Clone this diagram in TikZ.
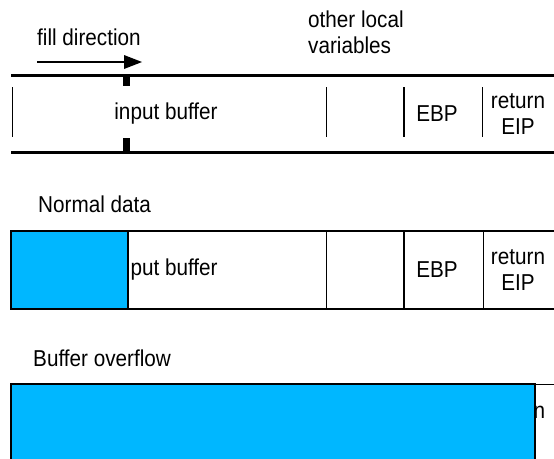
\documentclass[tikz,border=0pt]{standalone}
\usepackage{fontspec}
\setmainfont[FakeStretch=0.9]{Liberation Sans}
\usetikzlibrary{arrows.meta,positioning}
\definecolor{fillblue}{RGB}{0,183,255}

\tikzset{
  lbl/.style={font=\fontsize{23}{26}\selectfont, inner sep=0pt},
  thinwall/.style={line width=1pt},
  wall/.style={line width=2pt},
  rim/.style={line width=3pt},
  spill/.style={fill=fillblue, draw=black, line width=2pt},
}

\begin{document}
\begin{tikzpicture}[x=1pt,y=-1pt]
  \useasboundingbox (0,0) rectangle (554,458);

  % stack frame before the copy
  \node[lbl, anchor=base west] (filltxt) at (37,45) {fill direction};
  \node[lbl, anchor=north west, align=left] (others) at (308,11) {other local\\variables};
  \coordinate (fillstart) at (37,62);
  \coordinate (fillhead) at (124,62);
  \coordinate (fillend) at (142,62);
  \draw[line width=1.5pt] (fillstart) -- (fillhead);
  \fill (fillend) -- ([yshift=-7pt]fillhead) -- ([yshift=7pt]fillhead) -- cycle;

  \draw[rim] (11,75) -- (554,75);
  \draw[rim] (11,152) -- (554,152);
  \foreach \x/\w in {12/thinwall,326/thinwall,404/wall,482/thinwall}
    \draw[\w] (\x,87) -- (\x,137);
  \fill (123,75) rectangle (130,86);
  \fill (123,138) rectangle (130,152);
  \node[lbl] (inbuf1) at (166,114) {input buffer};
  \node[lbl] (ebp1) at (437,114) {EBP};
  \node[lbl, align=center] (eip1) at (518,114) {return\\EIP};

  % normal data
  \node[lbl, anchor=base west] (normal) at (38,212) {Normal data};
  \node[lbl] (inbuf2) at (166,270) {input buffer};
  \node[lbl] (ebp2) at (437,270) {EBP};
  \node[lbl, align=center] (eip2) at (518,270) {return\\EIP};
  \draw[wall] (554,231) -- (11,231) -- (11,309) -- (554,309);
  \filldraw[spill] (11,231) rectangle (128,309);
  \draw[thinwall] (326,231) -- (326,309);
  \draw[wall] (404,231) -- (404,309);
  \draw[thinwall] (483,231) -- (483,309);

  % buffer overflow
  \node[lbl, anchor=base west] (overflow) at (33,366) {Buffer overflow};
  \node[lbl, align=center] (eip3) at (518,424) {return\\EIP};
  \draw[thinwall] (11,384) -- (554,384);
  \filldraw[spill] (11,384) rectangle (535,462);
\end{tikzpicture}
\end{document}
